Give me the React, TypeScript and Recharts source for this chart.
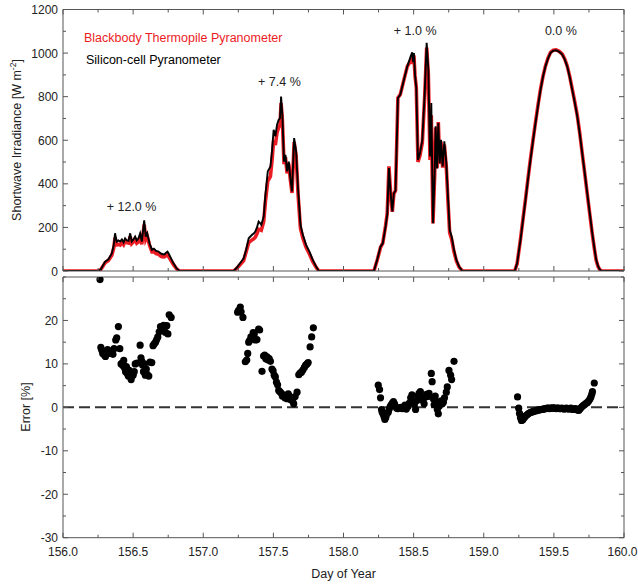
import React from 'react';
import {
  ComposedChart,
  Line,
  XAxis,
  YAxis,
  ScatterChart,
  Scatter,
  ReferenceLine,
  ReferenceDot,
} from 'recharts';

// ---- Irradiance time series (day of year, W m-2) ----
const timeDay156 = [156.0, 156.25, 156.27, 156.3, 156.324, 156.348, 156.362, 156.371, 156.383, 156.395, 156.407, 156.42, 156.432, 156.443, 156.455, 156.467, 156.479, 156.49, 156.502, 156.514, 156.526, 156.538, 156.55, 156.562, 156.579, 156.59, 156.6, 156.617, 156.634, 156.648, 156.664, 156.681, 156.695, 156.705, 156.722, 156.735, 156.745, 156.755, 156.764, 156.788, 156.81, 156.83];
const siliconDay156 = [0, 0, 8, 43, 54, 81, 120, 173, 135, 140, 135, 145, 132, 150, 140, 138, 173, 135, 145, 158, 140, 150, 173, 135, 232, 158, 173, 127, 97, 102, 92, 89, 82, 78, 76, 84, 89, 78, 66, 35, 12, 0];
const thermopileDay156 = [0, 0, 7, 38, 48, 72, 106, 153, 120, 122, 119, 132, 121, 138, 130, 128, 159, 126, 134, 146, 128, 134, 153, 123, 213, 146, 161, 118, 88, 89, 80, 77, 69, 66, 65, 71, 74, 64, 55, 29, 10, 0];

const timeDay157 = [157.0, 157.217, 157.245, 157.265, 157.288, 157.305, 157.324, 157.348, 157.36, 157.371, 157.383, 157.395, 157.405, 157.414, 157.431, 157.443, 157.46, 157.479, 157.49, 157.502, 157.514, 157.526, 157.538, 157.547, 157.555, 157.564, 157.576, 157.586, 157.598, 157.61, 157.621, 157.633, 157.648, 157.662, 157.676, 157.693, 157.71, 157.733, 157.757, 157.781, 157.805, 157.824];
const siliconDay157 = [0, 0, 20, 38, 58, 95, 150, 166, 172, 181, 200, 227, 220, 212, 250, 349, 457, 480, 549, 648, 618, 671, 694, 700, 801, 717, 502, 533, 457, 502, 426, 365, 610, 549, 380, 212, 166, 120, 89, 51, 20, 0];
const thermopileDay157 = [0, 0, 16, 31, 48, 86, 130, 143, 148, 155, 171, 192, 190, 187, 226, 316, 413, 434, 504, 600, 578, 635, 660, 668, 770, 696, 490, 522, 448, 492, 418, 358, 592, 530, 353, 196, 152, 109, 78, 43, 17, 0];

const timeDay158 = [158.0, 158.217, 158.24, 158.264, 158.28, 158.3, 158.312, 158.324, 158.336, 158.348, 158.359, 158.371, 158.388, 158.405, 158.431, 158.455, 158.479, 158.49, 158.496, 158.502, 158.51, 158.519, 158.531, 158.545, 158.562, 158.579, 158.593, 158.605, 158.617, 158.626, 158.638, 158.65, 158.657, 158.667, 158.676, 158.686, 158.695, 158.707, 158.719, 158.733, 158.745, 158.757, 158.771, 158.788, 158.805, 158.824, 158.848];
const siliconDay158 = [0, 0, 51, 112, 127, 204, 260, 472, 357, 273, 357, 370, 794, 810, 878, 939, 985, 1004, 960, 1000, 900, 840, 510, 540, 602, 817, 1047, 924, 526, 771, 219, 449, 664, 470, 679, 495, 602, 480, 595, 495, 342, 189, 158, 97, 51, 20, 0];
const thermopileDay158 = [0, 0, 49, 108, 128, 208, 266, 480, 357, 271, 354, 369, 795, 810, 878, 939, 965, 985, 950, 990, 895, 843, 500, 528, 590, 802, 1025, 900, 510, 715, 218, 440, 658, 472, 684, 492, 595, 474, 580, 478, 320, 176, 146, 88, 46, 18, 0];

const timeDay159 = [159.0, 159.221, 159.238, 159.262, 159.28, 159.298, 159.315, 159.333, 159.351, 159.369, 159.387, 159.405, 159.422, 159.44, 159.458, 159.476, 159.496, 159.516, 159.538, 159.56, 159.578, 159.595, 159.613, 159.631, 159.649, 159.667, 159.685, 159.702, 159.72, 159.738, 159.756, 159.774, 159.79, 159.802, 159.815, 159.826, 159.84, 160.0];
const siliconDay159 = [0, 0, 35, 143, 235, 326, 418, 510, 596, 679, 758, 832, 890, 939, 975, 1001, 1011, 1013, 1006, 993, 970, 939, 890, 832, 773, 710, 628, 541, 450, 357, 265, 173, 100, 51, 22, 8, 0, 0];
const thermopileDay159 = [0, 0, 34, 146, 240, 330, 422, 514, 600, 683, 762, 835, 892, 941, 977, 1003, 1013, 1015, 1008, 995, 972, 941, 893, 835, 776, 713, 630, 541, 449, 354, 261, 169, 96, 48, 21, 8, 0, 0];

// ---- Silicon-cell error relative to thermopile (%) ----
const errTimeDay156 = [156.264, 156.27, 156.276, 156.283, 156.29, 156.296, 156.303, 156.31, 156.318, 156.324, 156.332, 156.34, 156.348, 156.356, 156.364, 156.376, 156.383, 156.395, 156.405, 156.414, 156.422, 156.428, 156.433, 156.44, 156.446, 156.452, 156.458, 156.466, 156.472, 156.479, 156.486, 156.494, 156.5, 156.508, 156.515, 156.528, 156.55, 156.556, 156.562, 156.568, 156.574, 156.58, 156.587, 156.594, 156.6, 156.612, 156.62, 156.633, 156.642, 156.65, 156.66, 156.668, 156.676, 156.686, 156.695, 156.705, 156.717, 156.729, 156.74, 156.748, 156.757, 156.771];
const errValueDay156 = [29.4, 13.8, 13.2, 12.4, 12.9, 12.0, 11.7, 12.3, 13.3, 13.0, 12.4, 12.8, 12.5, 12.2, 13.5, 15.5, 16.0, 18.6, 13.5, 10.0, 10.2, 9.6, 10.8, 9.0, 8.2, 9.4, 7.8, 7.2, 8.5, 7.6, 6.4, 8.0, 7.4, 8.2, 10.0, 10.2, 14.3, 11.4, 10.6, 9.7, 8.2, 10.0, 7.4, 8.8, 7.6, 7.2, 10.4, 10.3, 14.2, 14.6, 15.0, 15.6, 16.2, 17.4, 18.6, 18.3, 18.9, 17.3, 18.8, 16.9, 21.3, 20.7];

const errTimeDay157 = [157.245, 157.252, 157.264, 157.27, 157.283, 157.3, 157.31, 157.317, 157.324, 157.331, 157.34, 157.348, 157.356, 157.364, 157.372, 157.383, 157.395, 157.402, 157.419, 157.43, 157.438, 157.446, 157.455, 157.462, 157.47, 157.479, 157.49, 157.498, 157.506, 157.514, 157.522, 157.53, 157.538, 157.546, 157.556, 157.564, 157.574, 157.582, 157.59, 157.598, 157.606, 157.614, 157.622, 157.63, 157.638, 157.645, 157.655, 157.669, 157.681, 157.69, 157.7, 157.71, 157.721, 157.73, 157.74, 157.748, 157.762, 157.773, 157.785];
const errValueDay157 = [21.9, 22.3, 23.1, 22.0, 20.7, 10.5, 10.9, 12.4, 15.0, 15.4, 16.2, 15.8, 17.2, 16.9, 15.5, 15.6, 18.0, 17.8, 8.3, 11.8, 12.0, 11.2, 11.6, 10.9, 11.2, 10.6, 8.8, 8.4, 7.4, 7.0, 5.8, 5.2, 3.9, 3.6, 3.3, 2.6, 2.8, 2.2, 2.4, 2.0, 3.1, 2.6, 1.8, 2.2, 1.4, 0.8, 2.5, 3.5, 7.5, 7.9, 8.1, 8.6, 9.2, 9.7, 10.0, 10.3, 13.9, 16.2, 18.3];

const errTimeDay158 = [158.248, 158.257, 158.264, 158.271, 158.276, 158.283, 158.29, 158.295, 158.302, 158.31, 158.319, 158.326, 158.333, 158.34, 158.348, 158.356, 158.364, 158.371, 158.379, 158.388, 158.398, 158.41, 158.42, 158.43, 158.438, 158.448, 158.46, 158.47, 158.479, 158.488, 158.495, 158.505, 158.514, 158.522, 158.53, 158.538, 158.548, 158.557, 158.567, 158.575, 158.583, 158.592, 158.6, 158.61, 158.626, 158.632, 158.64, 158.646, 158.654, 158.662, 158.669, 158.676, 158.683, 158.69, 158.697, 158.704, 158.712, 158.72, 158.733, 158.74, 158.752, 158.764, 158.771, 158.788];
const errValueDay158 = [5.1, 4.1, 2.2, -0.5, -1.1, -1.6, -2.2, -2.8, -2.3, -1.5, -1.1, -0.4, 0.2, 0.6, 1.0, 1.3, 0.8, 0.2, -0.2, -0.3, -0.1, 0.0, -0.3, -0.1, 0.5, -0.4, 0.2, 1.0, 2.2, 2.9, 1.5, 0.6, -0.5, 1.5, 2.6, 3.2, 3.6, 2.4, 1.6, 0.8, 2.3, 3.0, 2.5, 3.2, 7.8, 5.9, 2.0, 0.6, 2.6, 1.4, -0.5, -1.5, 0.3, 1.0, 1.5, 0.8, 1.2, 2.2, 3.5, 4.7, 8.5, 7.4, 6.4, 10.6];

const errTimeDay159 = [159.241, 159.249, 159.255, 159.262, 159.269, 159.277, 159.285, 159.293, 159.301, 159.309, 159.317, 159.325, 159.333, 159.341, 159.349, 159.357, 159.365, 159.373, 159.381, 159.389, 159.397, 159.405, 159.413, 159.421, 159.429, 159.437, 159.445, 159.453, 159.461, 159.469, 159.477, 159.485, 159.493, 159.501, 159.509, 159.517, 159.525, 159.533, 159.541, 159.549, 159.557, 159.565, 159.573, 159.581, 159.589, 159.597, 159.605, 159.613, 159.621, 159.629, 159.637, 159.645, 159.653, 159.661, 159.669, 159.677, 159.685, 159.693, 159.701, 159.709, 159.717, 159.725, 159.733, 159.741, 159.749, 159.757, 159.764, 159.77, 159.775, 159.788];
const errValueDay159 = [2.4, -0.2, -1.4, -2.4, -3.0, -2.9, -2.5, -2.2, -1.9, -1.7, -1.5, -1.3, -1.2, -1.1, -1.0, -0.9, -0.8, -0.8, -0.7, -0.6, -0.6, -0.5, -0.5, -0.4, -0.4, -0.3, -0.3, -0.2, -0.2, -0.3, -0.2, -0.2, -0.1, -0.2, -0.2, -0.3, -0.2, -0.2, -0.3, -0.3, -0.2, -0.3, -0.4, -0.3, -0.2, -0.3, -0.4, -0.3, -0.2, -0.4, -0.5, -0.4, -0.3, -0.4, -0.6, -0.7, -0.4, -0.1, 0.2, 0.4, 0.6, 0.8, 1.0, 1.2, 1.5, 1.9, 2.4, 3.0, 3.6, 5.6];

// ---- Daily mean bias annotations ----
const biasDay = [156.489, 157.543, 158.511, 159.55];
const biasLevel = [277, 849, 1083, 1083];
const biasText = ['+ 12.0 %', '+ 7.4 %', '+ 1.0 %', '0.0 %'];

// ---- Axis ticks ----
const dayTicks = [156, 156.25, 156.5, 156.75, 157, 157.25, 157.5, 157.75, 158, 158.25, 158.5, 158.75, 159, 159.25, 159.5, 159.75, 160];
const dayMajor = [156, 156.5, 157, 157.5, 158, 158.5, 159, 159.5, 160];
const irrTicks = [0, 100, 200, 300, 400, 500, 600, 700, 800, 900, 1000, 1100, 1200];
const irrMajor = [0, 200, 400, 600, 800, 1000, 1200];
const errTicks = [-30, -25, -20, -15, -10, -5, 0, 5, 10, 15, 20, 25, 30];
const errMajor = [-30, -20, -10, 0, 10, 20];

const irradianceRows = [
  ...timeDay156.map((d, i) => ({ day: d, silicon: siliconDay156[i], thermopile: thermopileDay156[i] })),
  ...timeDay157.map((d, i) => ({ day: d, silicon: siliconDay157[i], thermopile: thermopileDay157[i] })),
  ...timeDay158.map((d, i) => ({ day: d, silicon: siliconDay158[i], thermopile: thermopileDay158[i] })),
  ...timeDay159.map((d, i) => ({ day: d, silicon: siliconDay159[i], thermopile: thermopileDay159[i] })),
];

const errorRows = [
  ...errTimeDay156.map((d, i) => ({ day: d, err: errValueDay156[i] })),
  ...errTimeDay157.map((d, i) => ({ day: d, err: errValueDay157[i] })),
  ...errTimeDay158.map((d, i) => ({ day: d, err: errValueDay158[i] })),
  ...errTimeDay159.map((d, i) => ({ day: d, err: errValueDay159[i] })),
];

const AXIS = '#555';
const INK = '#222';
const RED = '#ec1c24';
const FONT = '"Liberation Sans", Arial, Helvetica, sans-serif';
const FS = 12.5;
const TICK_FS = 12;

const isIn = (list: number[], v: number) => list.some((m) => Math.abs(m - v) < 1e-6);

// Tick marks point into the plot; labels sit outside.
const bottomTick = (majors: number[], labels: boolean) => (p: any) => {
  const major = isIn(majors, p.payload.value);
  const atRightEdge = Math.abs(p.payload.value - 160) < 1e-6;
  return (
    <g>
      <line x1={p.x} x2={p.x} y1={p.y} y2={p.y - (major ? 5 : 3)} stroke={AXIS} />
      {labels && major ? (
        <text
          x={atRightEdge ? p.x - 1.5 : p.x}
          y={p.y + 18}
          textAnchor="middle"
          fontSize={TICK_FS}
          fontFamily={FONT}
          fill={INK}
        >
          {Number(p.payload.value).toFixed(1)}
        </text>
      ) : null}
    </g>
  );
};

const topTick = (majors: number[]) => (p: any) => {
  const major = isIn(majors, p.payload.value);
  return <line x1={p.x} x2={p.x} y1={p.y} y2={p.y + (major ? 5 : 3)} stroke={AXIS} />;
};

const leftTick = (majors: number[], labelled: number[]) => (p: any) => {
  const major = isIn(majors, p.payload.value);
  return (
    <g>
      <line x1={p.x} x2={p.x + (major ? 5 : 3)} y1={p.y} y2={p.y} stroke={AXIS} />
      {isIn(labelled, p.payload.value) ? (
        <text x={p.x - 5} y={p.y + 4.5} textAnchor="end" fontSize={TICK_FS} fontFamily={FONT} fill={INK}>
          {p.payload.value}
        </text>
      ) : null}
    </g>
  );
};

const rightTick = (majors: number[]) => (p: any) => {
  const major = isIn(majors, p.payload.value);
  return <line x1={p.x} x2={p.x - (major ? 5 : 3)} y1={p.y} y2={p.y} stroke={AXIS} />;
};

const dotShape = (p: any) => <circle cx={p.cx} cy={p.cy} r={3.6} fill="#000" />;

export default function App() {
  return (
    <div style={{ position: 'absolute', left: 0, top: 0, width: 638, height: 585, background: '#fff' }}>
      {/* Upper panel: irradiance */}
      <div style={{ position: 'absolute', left: 0, top: 0 }}>
        <ComposedChart width={638} height={285} data={irradianceRows} margin={{ top: 8.5, right: 13, bottom: 0, left: 0 }}>
          <XAxis
            xAxisId={0}
            dataKey="day"
            type="number"
            domain={[156, 160]}
            ticks={dayTicks}
            interval={0}
            height={14}
            tickSize={0}
            tickMargin={0}
            tickLine={false}
            axisLine={{ stroke: AXIS }}
            tick={bottomTick(dayMajor, false)}
            allowDataOverflow
          />
          <XAxis
            xAxisId="top"
            orientation="top"
            dataKey="day"
            type="number"
            domain={[156, 160]}
            ticks={dayTicks}
            interval={0}
            height={1}
            tickSize={0}
            tickMargin={0}
            tickLine={false}
            axisLine={{ stroke: AXIS }}
            tick={topTick(dayMajor)}
            allowDataOverflow
          />
          <YAxis
            yAxisId={0}
            type="number"
            domain={[0, 1200]}
            ticks={irrTicks}
            interval={0}
            width={63}
            tickSize={0}
            tickMargin={0}
            tickLine={false}
            axisLine={{ stroke: AXIS }}
            tick={leftTick(irrMajor, irrMajor)}
            allowDataOverflow
          />
          <YAxis
            yAxisId="right"
            orientation="right"
            type="number"
            domain={[0, 1200]}
            ticks={irrTicks}
            interval={0}
            width={1}
            tickSize={0}
            tickMargin={0}
            tickLine={false}
            axisLine={{ stroke: AXIS }}
            tick={rightTick(irrMajor)}
            allowDataOverflow
          />
          <Line
            type="linear"
            dataKey="thermopile"
            stroke={RED}
            strokeWidth={3.6}
            dot={false}
            isAnimationActive={false}
          />
          <Line
            type="linear"
            dataKey="silicon"
            stroke="#000"
            strokeWidth={1.9}
            dot={false}
            isAnimationActive={false}
          />
          {biasDay.map((d, i) => (
            <ReferenceDot
              key={biasText[i]}
              x={d}
              y={biasLevel[i]}
              r={1}
              ifOverflow="visible"
              shape={(p: any) => (
                <text x={p.cx} y={p.cy} textAnchor="middle" fontSize={FS} fontFamily={FONT} fill={INK}>
                  {biasText[i]}
                </text>
              )}
            />
          ))}
        </ComposedChart>
      </div>

      {/* Lower panel: error */}
      <div style={{ position: 'absolute', left: 0, top: 0 }}>
        <ScatterChart width={638} height={585} margin={{ top: 276, right: 13, bottom: 0, left: 0 }}>
          <XAxis
            xAxisId={0}
            dataKey="day"
            type="number"
            domain={[156, 160]}
            ticks={dayTicks}
            interval={0}
            height={47.3}
            tickSize={0}
            tickMargin={0}
            tickLine={false}
            axisLine={{ stroke: AXIS }}
            tick={bottomTick(dayMajor, true)}
            allowDataOverflow
          />
          <XAxis
            xAxisId="top"
            orientation="top"
            dataKey="day"
            type="number"
            domain={[156, 160]}
            ticks={dayTicks}
            interval={0}
            height={1}
            tickSize={0}
            tickMargin={0}
            tickLine={false}
            axisLine={{ stroke: AXIS }}
            tick={topTick(dayMajor)}
            allowDataOverflow
          />
          <YAxis
            yAxisId={0}
            dataKey="err"
            type="number"
            domain={[-30, 30]}
            ticks={errTicks}
            interval={0}
            width={63}
            tickSize={0}
            tickMargin={0}
            tickLine={false}
            axisLine={{ stroke: AXIS }}
            tick={leftTick(errMajor, errMajor)}
            allowDataOverflow
          />
          <YAxis
            yAxisId="right"
            orientation="right"
            dataKey="err"
            type="number"
            domain={[-30, 30]}
            ticks={errTicks}
            interval={0}
            width={1}
            tickSize={0}
            tickMargin={0}
            tickLine={false}
            axisLine={{ stroke: AXIS }}
            tick={rightTick(errMajor)}
            allowDataOverflow
          />
          <ReferenceLine y={0} stroke="#333" strokeWidth={2} strokeDasharray="11 5" />
          <Scatter data={errorRows} dataKey="err" shape={dotShape} isAnimationActive={false} />
        </ScatterChart>
      </div>

      {/* Titles and legend */}
      <svg
        width={638}
        height={585}
        style={{ position: 'absolute', left: 0, top: 0, pointerEvents: 'none' }}
        fontFamily={FONT}
        fontSize={FS}
      >
        <text x={84} y={42} fill={RED}>Blackbody Thermopile Pyranometer</text>
        <text x={86} y={64} fill="#000">Silicon-cell Pyranometer</text>
        <text transform="translate(21,140) rotate(-90)" textAnchor="middle" fill={INK}>
          Shortwave Irradiance [W m<tspan dy={-5} fontSize={8.5}>-2</tspan><tspan dy={5}>]</tspan>
        </text>
        <text transform="translate(29.5,407) rotate(-90)" textAnchor="middle" fill={INK}>
          Error [%]
        </text>
        <text x={343.5} y={578} textAnchor="middle" fill={INK}>Day of Year</text>
      </svg>
    </div>
  );
}
